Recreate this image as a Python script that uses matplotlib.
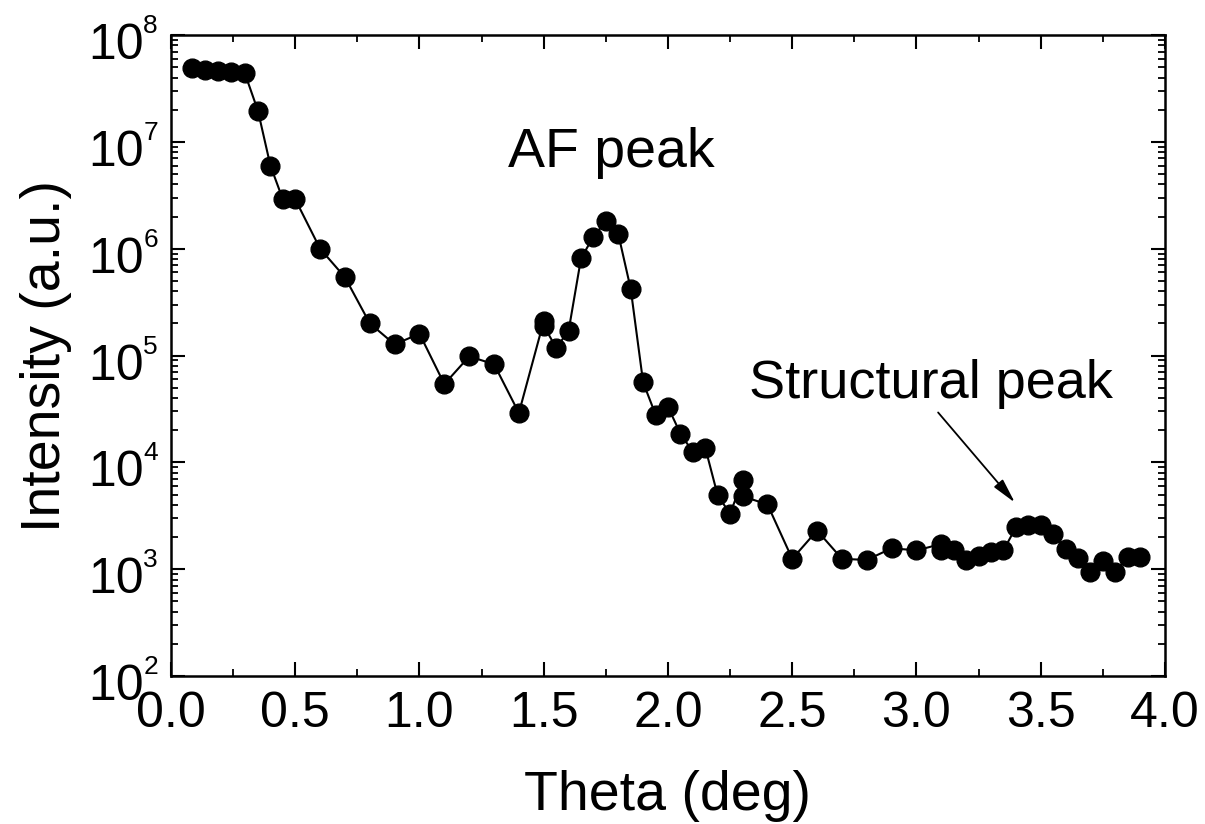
import matplotlib
matplotlib.use("Agg")
import matplotlib.pyplot as plt
from matplotlib.ticker import MultipleLocator, FormatStrFormatter, LogLocator, NullFormatter
from matplotlib.transforms import offset_copy

plt.rcParams['font.family'] = ['Liberation Sans', 'DejaVu Sans']

# scan data
theta = [0.085, 0.138, 0.19, 0.243, 0.297, 0.35, 0.40, 0.45, 0.50, 0.60,
         0.70, 0.80, 0.90, 1.00, 1.10, 1.20, 1.30, 1.40, 1.50, 1.50,
         1.55, 1.60, 1.65, 1.70, 1.75, 1.80, 1.85, 1.90, 1.95, 2.00,
         2.05, 2.10, 2.15, 2.20, 2.25, 2.30, 2.30, 2.40, 2.50, 2.60,
         2.70, 2.80, 2.90, 3.00, 3.10, 3.10, 3.15, 3.20, 3.25, 3.30,
         3.35, 3.40, 3.45, 3.50, 3.55, 3.60, 3.65, 3.70, 3.75, 3.80,
         3.85, 3.90]
intensity = [4.9e7, 4.7e7, 4.6e7, 4.5e7, 4.4e7, 1.95e7, 6.0e6, 2.9e6, 2.9e6, 1.0e6,
             5.4e5, 2.0e5, 1.27e5, 1.6e5, 5.4e4, 9.8e4, 8.3e4, 2.9e4, 2.1e5, 1.9e5,
             1.18e5, 1.7e5, 8.1e5, 1.3e6, 1.8e6, 1.37e6, 4.2e5, 5.6e4, 2.8e4, 3.3e4,
             1.86e4, 1.25e4, 1.37e4, 4.9e3, 3.3e3, 6.8e3, 4.8e3, 4.05e3, 1.25e3, 2.3e3,
             1.25e3, 1.22e3, 1.57e3, 1.5e3, 1.72e3, 1.5e3, 1.5e3, 1.22e3, 1.32e3, 1.44e3,
             1.5e3, 2.46e3, 2.6e3, 2.6e3, 2.15e3, 1.54e3, 1.27e3, 9.4e2, 1.2e3, 9.4e2,
             1.31e3, 1.29e3]

decades = [2, 3, 4, 5, 6, 7, 8]

fig = plt.figure(figsize=(12.05, 8.24), dpi=100)
ax = fig.add_axes([0.1419, 0.1796, 0.8249, 0.7779])

ax.plot(theta, intensity, color='k', lw=1.5, marker='o', ms=13.5)

ax.set_yscale('log')
ax.set_xlim(0, 4)
ax.set_ylim(1e2, 1e8)

ax.xaxis.set_major_locator(MultipleLocator(0.5))
ax.xaxis.set_minor_locator(MultipleLocator(0.25))
ax.xaxis.set_major_formatter(FormatStrFormatter('%.1f'))
ax.yaxis.set_major_locator(LogLocator(base=10))
ax.yaxis.set_minor_locator(LogLocator(base=10, subs=range(2, 10), numticks=20))
ax.yaxis.set_minor_formatter(NullFormatter())

ax.tick_params(which='both', direction='in', top=True, right=True, labelleft=False)
ax.tick_params(which='major', length=10, width=1.5)
ax.tick_params(which='minor', length=5, width=1.3)
ax.tick_params(axis='x', labelsize=36, pad=11)
for s in ax.spines.values():
    s.set_linewidth(1.8)

# y tick labels as 10 + small exponent
ytr = ax.get_yaxis_transform()
base_tr = offset_copy(ytr, fig=fig, y=-24, units='dots')
exp_tr = offset_copy(ytr, fig=fig, y=2, units='dots')
for e in decades:
    ax.text(-0.027, 10.0 ** e, '10', transform=base_tr, ha='right', va='baseline',
            fontsize=36, clip_on=False)
    ax.text(-0.028, 10.0 ** e, str(e), transform=exp_tr, ha='left', va='baseline',
            fontsize=19, clip_on=False)

ax.set_xlabel('Theta (deg)', fontsize=40, va='baseline')
ax.xaxis.set_label_coords(0.5, -0.209)
ax.set_ylabel('Intensity (a.u.)', fontsize=40, va='baseline')
ax.yaxis.set_label_coords(-0.1117, 0.5)

ax.text(1.356, 5.84e6, 'AF peak', fontsize=40, ha='left', va='baseline')
ax.text(2.326, 4.0e4, 'Structural peak', fontsize=39, ha='left', va='baseline')
ax.annotate('', xy=(3.396, 4.2e3), xytext=(3.087, 2.93e4),
            arrowprops=dict(arrowstyle='-|>,head_length=1.5,head_width=0.35',
                            color='k', lw=1.3, shrinkA=0, shrinkB=0))

fig.savefig('out.png', dpi=100)
